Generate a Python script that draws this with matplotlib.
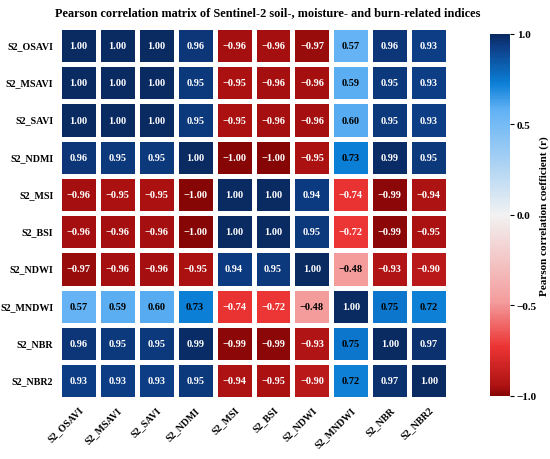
import numpy as np
import matplotlib
matplotlib.use("Agg")
import matplotlib.pyplot as plt
import seaborn as sns
from matplotlib.colors import LinearSegmentedColormap

# index names
labels = ["S2_OSAVI", "S2_MSAVI", "S2_SAVI", "S2_NDMI", "S2_MSI",
          "S2_BSI", "S2_NDWI", "S2_MNDWI", "S2_NBR", "S2_NBR2"]

# correlation values read from the matrix
row_osavi = [1.00, 1.00, 1.00, 0.96, -0.96, -0.96, -0.97, 0.57, 0.96, 0.93]
row_msavi = [1.00, 1.00, 1.00, 0.95, -0.95, -0.96, -0.96, 0.59, 0.95, 0.93]
row_savi = [1.00, 1.00, 1.00, 0.95, -0.95, -0.96, -0.96, 0.60, 0.95, 0.93]
row_ndmi = [0.96, 0.95, 0.95, 1.00, -1.00, -1.00, -0.95, 0.73, 0.99, 0.95]
row_msi = [-0.96, -0.95, -0.95, -1.00, 1.00, 1.00, 0.94, -0.74, -0.99, -0.94]
row_bsi = [-0.96, -0.96, -0.96, -1.00, 1.00, 1.00, 0.95, -0.72, -0.99, -0.95]
row_ndwi = [-0.97, -0.96, -0.96, -0.95, 0.94, 0.95, 1.00, -0.48, -0.93, -0.90]
row_mndwi = [0.57, 0.59, 0.60, 0.73, -0.74, -0.72, -0.48, 1.00, 0.75, 0.72]
row_nbr = [0.96, 0.95, 0.95, 0.99, -0.99, -0.99, -0.93, 0.75, 1.00, 0.97]
row_nbr2 = [0.93, 0.93, 0.93, 0.95, -0.94, -0.95, -0.90, 0.72, 0.97, 1.00]

corr = np.array([row_osavi, row_msavi, row_savi, row_ndmi, row_msi,
                 row_bsi, row_ndwi, row_mndwi, row_nbr, row_nbr2])

cbar_ticks = [-1.0, -0.5, 0.0, 0.5, 1.0]

# colour anchors: red for negative, blue for positive
cmap = LinearSegmentedColormap.from_list("redblue", [
    (0.000, "#860606"),
    (0.025, "#ad1212"),
    (0.135, "#ec3434"),
    (0.260, "#f49d9d"),
    (0.500, "#f2f2f2"),
    (0.790, "#62b2f5"),
    (0.865, "#0b7fd6"),
    (0.965, "#0d3f88"),
    (1.000, "#0a2a62"),
])

plt.rcParams['font.family'] = ['Liberation Serif', 'DejaVu Serif']
plt.rcParams['font.weight'] = 'bold'

fig = plt.figure(figsize=(5.5, 4.6), dpi=100)
ax = fig.add_axes([0.107, 0.130, 0.708, 0.809])
cax = fig.add_axes([0.891, 0.137, 0.036, 0.787])

sns.heatmap(corr, ax=ax, cbar_ax=cax, cmap=cmap, vmin=-1, vmax=1,
            linewidths=2.2, linecolor="white", annot=False,
            xticklabels=labels, yticklabels=labels)

# cell annotations
for i in range(corr.shape[0]):
    for j in range(corr.shape[1]):
        v = corr[i, j]
        col = "white" if (v > 0.8 or v < -0.6) else "black"
        ax.text(j + 0.5, i + 0.5, f"{v:.2f}".replace("-", "\u2212"),
                ha="center", va="center", color=col,
                fontsize=7.5, fontweight="bold")

ax.set_xticklabels(labels, rotation=45, ha="right", rotation_mode="anchor",
                   fontsize=7.2, fontweight="bold")
ax.set_yticklabels(labels, rotation=0, fontsize=7.2, fontweight="bold")
ax.tick_params(length=0, pad=4)

fig.suptitle("Pearson correlation matrix of Sentinel-2 soil-, moisture- and burn-related indices",
             x=0.487, y=0.985, fontsize=8.8, fontweight="bold")

cax.set_yticks(cbar_ticks)
cax.set_yticklabels([f"{t:.1f}".replace("-", "\u2212") for t in cbar_ticks],
                    fontsize=8, fontweight="bold")
cax.tick_params(length=3, width=0.8, pad=2)
cax.set_ylabel("Pearson correlation coefficient (r)", fontsize=8,
               fontweight="bold", labelpad=2)

fig.savefig("out.png", dpi=100, facecolor="white")
